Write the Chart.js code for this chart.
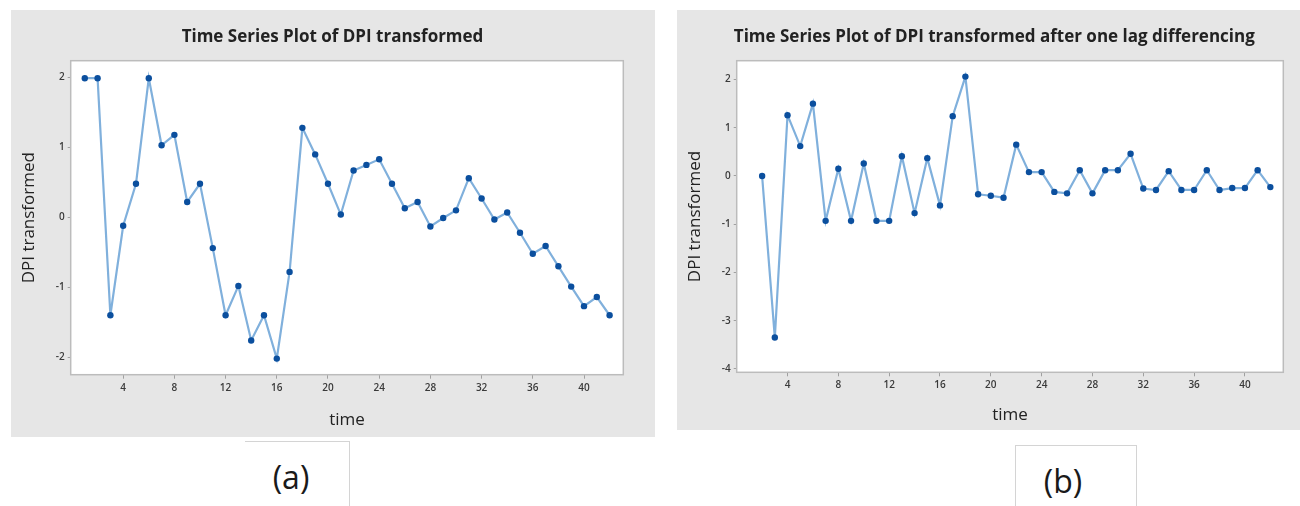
<!DOCTYPE html>
<html>
<head>
<meta charset="utf-8">
<script src="https://cdn.jsdelivr.net/npm/chart.js@4/dist/chart.umd.min.js"></script>
<style>
  html, body { margin: 0; padding: 0; background: #ffffff; width: 1300px; height: 506px; overflow: hidden; position: relative; font-family: "Open Sans", sans-serif; }
  .panel { position: absolute; background: #e6e6e6; }
  #pa { left: 11px; top: 10px; width: 644px; height: 427px; }
  #pb { left: 677px; top: 10px; width: 636px; height: 420px; }
  .capbox { position: absolute; border-color: #d4d4d4; border-style: solid; border-width: 0; }
  #boxA { left: 245px; top: 441px; width: 104px; height: 80px; border-top-width: 1px; border-right-width: 1px; }
  #boxB { left: 1015px; top: 445px; width: 120px; height: 80px; border-top-width: 1px; border-left-width: 1px; border-right-width: 1px; }
  .cap { position: absolute; width: 100px; text-align: center; font-size: 32px; line-height: 40px; color: #1a1a1a; }
  #capA { left: 241px; top: 457px; }
  #capB { left: 1013px; top: 461px; }
</style>
</head>
<body>
<div class="panel" id="pa"><canvas id="chartA" width="644" height="427"></canvas></div>
<div class="panel" id="pb"><canvas id="chartB" width="636" height="420"></canvas></div>
<div class="capbox" id="boxA"></div>
<div class="capbox" id="boxB"></div>
<div class="cap" id="capA">(a)</div>
<div class="cap" id="capB">(b)</div>
<script>
// Panel (a): transformed DPI series
const timeA = [1, 2, 3, 4, 5, 6, 7, 8, 9, 10, 11, 12, 13, 14, 15, 16, 17, 18, 19, 20, 21,
               22, 23, 24, 25, 26, 27, 28, 29, 30, 31, 32, 33, 34, 35, 36, 37, 38, 39, 40, 41, 42];
const dpiA = [1.99, 1.99, -1.40, -0.12, 0.48, 1.99, 1.03, 1.18, 0.22, 0.48, -0.44, -1.40, -0.98, -1.76,
              -1.40, -2.02, -0.78, 1.28, 0.90, 0.48, 0.04, 0.67, 0.75, 0.83, 0.48, 0.13, 0.22, -0.13,
              -0.01, 0.10, 0.56, 0.27, -0.03, 0.07, -0.22, -0.52, -0.41, -0.70, -0.99, -1.27, -1.14, -1.40];

// Panel (b): the same series after one lag differencing
const timeB = [2, 3, 4, 5, 6, 7, 8, 9, 10, 11, 12, 13, 14, 15, 16, 17, 18, 19, 20, 21,
               22, 23, 24, 25, 26, 27, 28, 29, 30, 31, 32, 33, 34, 35, 36, 37, 38, 39, 40, 41, 42];
const diffB = [0.00, -3.35, 1.26, 0.62, 1.50, -0.93, 0.15, -0.93, 0.26, -0.93, -0.93, 0.41, -0.77, 0.37,
               -0.61, 1.24, 2.06, -0.38, -0.41, -0.45, 0.65, 0.08, 0.08, -0.33, -0.36, 0.12, -0.36, 0.12,
               0.12, 0.46, -0.26, -0.29, 0.10, -0.29, -0.29, 0.12, -0.29, -0.25, -0.25, 0.12, -0.23];

// Tick labels
const timeTicks = [4, 8, 12, 16, 20, 24, 28, 32, 36, 40];
const yTicksA = [-2, -1, 0, 1, 2];
const yTicksB = [-4, -3, -2, -1, 0, 1, 2];

const FONT = '"Open Sans", "Liberation Sans", sans-serif';
const LINE = '#80b0dc';
const DOT = '#0b4f9e';
const TICK_TXT = '#3a3a3a';
const TICK_LINE = '#a0a0a0';

// White plotting area with a light grey frame
const framePlugin = {
  id: 'plotFrame',
  beforeDraw(chart) {
    const a = chart.chartArea, ctx = chart.ctx;
    ctx.save();
    ctx.fillStyle = '#ffffff';
    ctx.fillRect(a.left, a.top, a.right - a.left, a.bottom - a.top);
    ctx.restore();
  },
  afterDraw(chart) {
    const a = chart.chartArea, ctx = chart.ctx;
    ctx.save();
    ctx.strokeStyle = '#bcbcbc';
    ctx.lineWidth = 1.5;
    ctx.strokeRect(a.left, a.top, a.right - a.left, a.bottom - a.top);
    ctx.restore();
  }
};

// cfg.padLeft shifts the centred title; the y axis width makes up the rest
// so that the plot area still starts 59.7px from the canvas edge.
function makeChart(id, title, xs, ys, yTicks, cfg) {
  const pts = xs.map((t, i) => ({ x: t, y: ys[i] }));
  const yAxisW = 59.7 - cfg.padLeft;
  const yTitleOffset = 18.3 - cfg.padLeft - 10.2;
  return new Chart(document.getElementById(id), {
    type: 'line',
    data: {
      datasets: [{
        data: pts,
        borderColor: LINE,
        borderWidth: 2.2,
        tension: 0,
        pointRadius: 3.2,
        pointBackgroundColor: DOT,
        pointBorderColor: DOT,
        pointBorderWidth: 0,
        fill: false
      }]
    },
    options: {
      responsive: false,
      animation: false,
      devicePixelRatio: 1,
      layout: { padding: { left: cfg.padLeft, top: 0, right: cfg.padRight, bottom: 0 } },
      plugins: {
        legend: { display: false },
        tooltip: { enabled: false },
        title: {
          display: true,
          text: title,
          color: '#222222',
          font: { family: FONT, size: 17, weight: '700' },
          padding: { top: 17.3, bottom: 13 }
        }
      },
      scales: {
        x: {
          type: 'linear',
          min: cfg.xMin,
          max: cfg.xMax,
          afterBuildTicks: s => { s.ticks = timeTicks.map(v => ({ value: v })); },
          afterFit: s => { s.height = cfg.xAxisH; },
          ticks: { color: TICK_TXT, font: { family: FONT, size: 10, weight: '600' }, padding: 3, maxRotation: 0, autoSkip: false },
          grid: { drawOnChartArea: false, drawTicks: true, tickLength: 4, color: TICK_LINE },
          border: { display: false },
          title: { display: true, text: 'time', color: '#222222', font: { family: FONT, size: 17 }, padding: { top: 0, bottom: cfg.timePad } }
        },
        y: {
          min: cfg.yMin,
          max: cfg.yMax,
          afterBuildTicks: s => { s.ticks = yTicks.map(v => ({ value: v })); },
          afterFit: s => { s.width = yAxisW; },
          ticks: { color: TICK_TXT, font: { family: FONT, size: 10, weight: '600' }, padding: 3 },
          grid: { drawOnChartArea: false, drawTicks: true, tickLength: 3, color: TICK_LINE },
          border: { display: false },
          title: { display: true, text: 'DPI transformed', color: '#222222', font: { family: FONT, size: 17 }, padding: { top: yTitleOffset, bottom: 0 } }
        }
      }
    },
    plugins: [framePlugin]
  });
}

makeChart('chartA', 'Time Series Plot of DPI transformed', timeA, dpiA, yTicksA,
  { xMin: -0.1, xMax: 43.07, yMin: -2.25, yMax: 2.24, padLeft: 30.7, padRight: 31.7, xAxisH: 62.3, timePad: 6.8 });

makeChart('chartB', 'Time Series Plot of DPI transformed after one lag differencing', timeB, diffB, yTicksB,
  { xMin: 0, xMax: 43.02, yMin: -4.07, yMax: 2.39, padLeft: 28.3, padRight: 29.7, xAxisH: 57.7, timePad: 4.8 });
</script>
</body>
</html>
